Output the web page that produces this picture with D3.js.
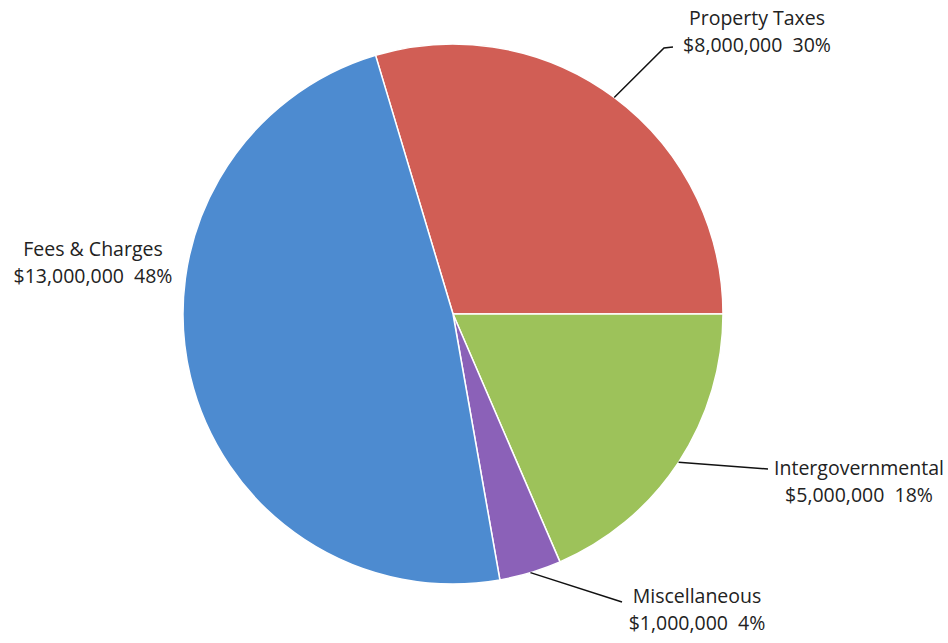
<!DOCTYPE html>
<html>
<head>
<meta charset="utf-8">
<script src="https://cdn.jsdelivr.net/npm/d3@7"></script>
<style>
  body { margin: 0; background: #fff; }
  .label { font-family: 'Open Sans', sans-serif; font-size: 19.5px; fill: #222; }
</style>
</head>
<body>
<script>
/* data */
var categories = ['Property Taxes', 'Intergovernmental', 'Miscellaneous', 'Fees & Charges'];
var amounts = [8000000, 5000000, 1000000, 13000000];
var percentLabels = ['30%', '18%', '4%', '48%'];
var colours = ['#d15e55', '#9dc25a', '#8b61b8', '#4d8bd0'];

/* label layout: text centre x, first baseline y, leader elbow/end (null = no leader) */
var labelLayout = [
  { x: 757, y: 25, elbow: [664, 48], end: [673, 47] },
  { x: 859, y: 475, elbow: null, end: [768, 469] },
  { x: 697, y: 603, elbow: null, end: [622, 602] },
  { x: 93, y: 256, elbow: null, end: null }
];

var width = 948;
var height = 643;
var cx = 453, cy = 314, radius = 270;

var svg = d3.select('body').
append('svg').
attr('width', width).
attr('height', height);

var g = svg.append('g').
attr('transform', 'translate(' + cx + ',' + cy + ')');

var total = d3.sum(amounts);
// first slice ends at 3 o'clock
var start = Math.PI / 2 - 2 * Math.PI * amounts[0] / total;

var pie = d3.pie().
sort(null).
startAngle(start).
endAngle(start + 2 * Math.PI);

var arcs = pie(amounts);

var arc = d3.arc().innerRadius(0).outerRadius(radius);

g.selectAll('path.slice').
data(arcs).
enter().
append('path').
attr('class', 'slice').
attr('d', arc).
attr('fill', function (d, i) {return colours[i];}).
attr('stroke', '#fff').
attr('stroke-width', 1.5);

var fmt = d3.format('$,');

// leader lines, starting at the slice edge at its mid angle
arcs.forEach(function (d, i) {
  var lay = labelLayout[i];
  if (!lay.end) return;
  var a = (d.startAngle + d.endAngle) / 2;
  var p0 = [cx + radius * Math.sin(a), cy - radius * Math.cos(a)];
  var pts = [p0];
  if (lay.elbow) pts.push(lay.elbow);
  pts.push(lay.end);
  svg.append('path').
  attr('d', d3.line()(pts)).
  attr('fill', 'none').
  attr('stroke', '#111').
  attr('stroke-width', 1.5);
});

// labels
var labels = svg.selectAll('text.label').
data(arcs).
enter().
append('text').
attr('class', 'label').
attr('text-anchor', 'middle').
attr('x', function (d, i) {return labelLayout[i].x;}).
attr('y', function (d, i) {return labelLayout[i].y;});

labels.append('tspan').
attr('x', function (d, i) {return labelLayout[i].x;}).
text(function (d, i) {return categories[i];});

labels.append('tspan').
attr('x', function (d, i) {return labelLayout[i].x;}).
attr('dy', 27).
attr('xml:space', 'preserve').
style('white-space', 'pre').
text(function (d, i) {return fmt(amounts[i]) + '  ' + percentLabels[i];});
</script>
</body>
</html>
